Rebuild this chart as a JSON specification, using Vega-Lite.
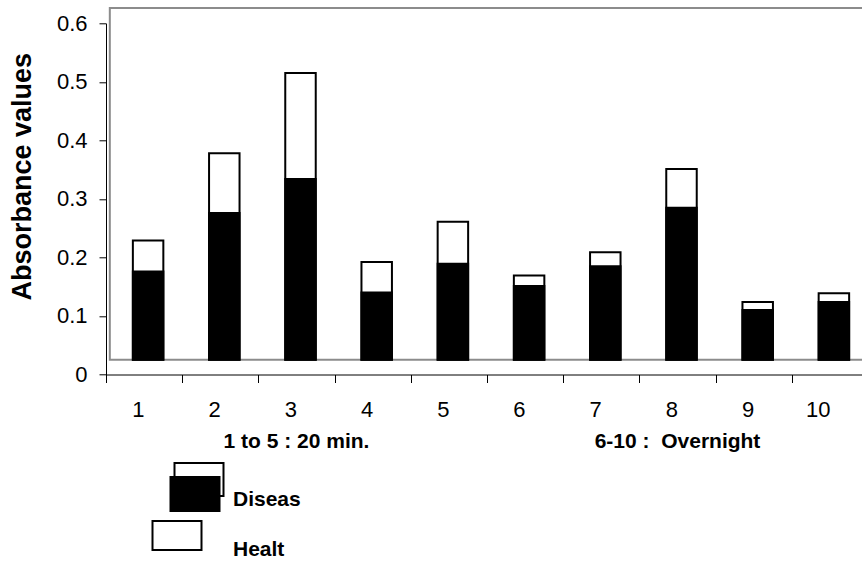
{
  "$schema": "https://vega.github.io/schema/vega-lite/v6.json",
  "width": 756,
  "height": 351.2,
  "autosize": {"type": "none"},
  "padding": {"left": 106, "top": 23.3, "right": 0, "bottom": 187.5},
  "background": "white",
  "config": {
    "view": {"stroke": null},
    "font": "Liberation Sans",
    "axis": {"grid": false, "domainColor": "black", "tickColor": "black", "labelColor": "black", "titleColor": "black", "labelFont": "Liberation Sans", "titleFont": "Liberation Sans"},
    "legend": {
      "orient": "none", "legendX": 74, "legendY": 466.2, "direction": "vertical",
      "symbolSize": 4, "symbolStrokeWidth": 0,
      "labelFont": "Liberation Sans", "labelFontSize": 21, "labelFontWeight": "bold", "labelColor": "black",
      "labelOffset": 32, "rowPadding": 7, "padding": 0
    }
  },
  "datasets": {
    "absorbance": [
      {"id": 1, "series": "Healt", "value": 0.229},
      {"id": 2, "series": "Healt", "value": 0.378},
      {"id": 3, "series": "Healt", "value": 0.515},
      {"id": 4, "series": "Healt", "value": 0.192},
      {"id": 5, "series": "Healt", "value": 0.261},
      {"id": 6, "series": "Healt", "value": 0.169},
      {"id": 7, "series": "Healt", "value": 0.209},
      {"id": 8, "series": "Healt", "value": 0.351},
      {"id": 9, "series": "Healt", "value": 0.124},
      {"id": 10, "series": "Healt", "value": 0.139},
      {"id": 1, "series": "Diseas", "value": 0.176},
      {"id": 2, "series": "Diseas", "value": 0.276},
      {"id": 3, "series": "Diseas", "value": 0.334},
      {"id": 4, "series": "Diseas", "value": 0.140},
      {"id": 5, "series": "Diseas", "value": 0.189},
      {"id": 6, "series": "Diseas", "value": 0.151},
      {"id": 7, "series": "Diseas", "value": 0.185},
      {"id": 8, "series": "Diseas", "value": 0.285},
      {"id": 9, "series": "Diseas", "value": 0.110},
      {"id": 10, "series": "Diseas", "value": 0.124}
    ]
  },
  "layer": [
    {
      "data": {"values": [{"frame": "plot"}]},
      "mark": {"type": "rect", "filled": false, "stroke": "#8c8c8c", "strokeWidth": 2},
      "encoding": {
        "x": {"datum": 1, "type": "ordinal", "bandPosition": 0.05, "title": null},
        "x2": {"datum": 10, "bandPosition": 1.2},
        "y": {"datum": 0.025, "type": "quantitative", "title": null},
        "y2": {"datum": 0.626}
      }
    },
    {
      "data": {"name": "absorbance"},
      "mark": {"type": "bar", "width": {"band": 0.4}, "xOffset": 4, "stroke": "black", "strokeWidth": 2},
      "encoding": {
        "x": {
          "field": "id", "type": "ordinal", "title": null,
          "scale": {"range": [0, 762], "paddingInner": 0, "paddingOuter": 0},
          "axis": {"title": null, "labelAngle": 0, "tickBand": "extent", "tickSize": 8, "labelFontSize": 22, "labelPadding": 27, "domainWidth": 1}
        },
        "y": {
          "field": "value", "type": "quantitative",
          "scale": {"domain": [0, 0.6], "nice": false, "zero": false},
          "axis": {
            "title": "Absorbance values", "values": [0, 0.1, 0.2, 0.3, 0.4, 0.5, 0.6], "format": "~g",
            "tickSize": 7, "labelFontSize": 22, "labelPadding": 12,
            "titleFontSize": 27, "titleFontWeight": "bold", "titleX": -84, "titleY": 153,
            "titleAngle": -90, "titleAlign": "center", "titleBaseline": "middle"
          }
        },
        "y2": {"datum": 0.025},
        "fill": {"condition": {"test": "datum.series === 'Diseas'", "value": "black"}, "value": "white"}
      }
    },
    {
      "data": {"name": "absorbance"},
      "transform": [{"filter": "false"}],
      "mark": {"type": "point", "filled": true, "opacity": 1, "color": "black"},
      "encoding": {
        "shape": {
          "field": "series", "type": "nominal", "title": null,
          "scale": {"domain": ["Diseas", "Healt"], "range": ["M-17,-38H34V-3H-17ZM-15,-36V-5H32V-36ZM-21,-24H30V12H-21Z", "M-39,-30H12V1H-39ZM-37,-28V-1H10V-28Z"]}
        }
      }
    },
    {
      "data": {"values": [{"id": 3, "note": "1 to 5 : 20 min."}, {"id": 8, "note": "6-10 : \u00a0Overnight"}]},
      "mark": {"type": "text", "fontSize": 21, "fontWeight": "bold", "align": "center", "baseline": "middle", "color": "black"},
      "encoding": {
        "x": {"field": "id", "type": "ordinal", "title": null},
        "y": {"datum": -0.115, "type": "quantitative", "title": null},
        "text": {"field": "note"}
      }
    }
  ]
}
